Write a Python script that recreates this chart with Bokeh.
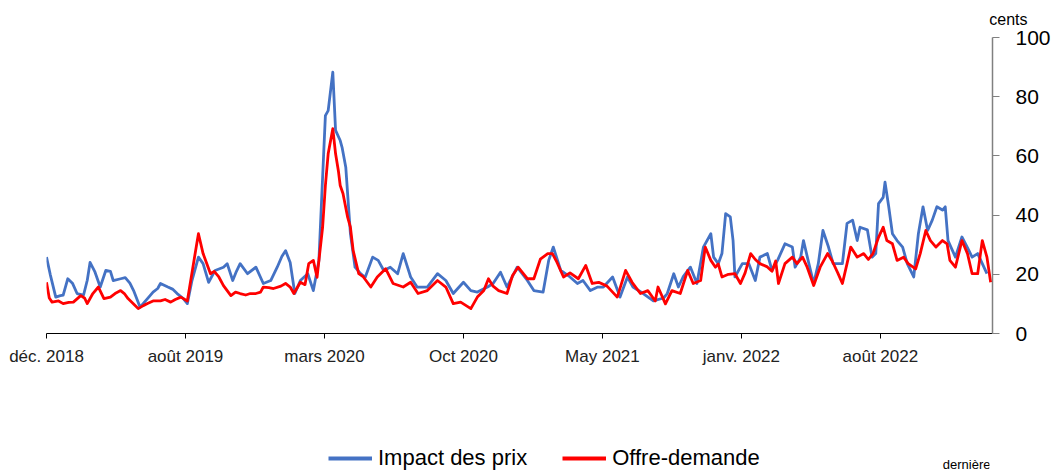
from bokeh.plotting import figure
from bokeh.models import Range1d, FixedTicker, Legend, LegendItem, Title, Label
from bokeh.layouts import column
from bokeh.embed import file_html
from bokeh.resources import INLINE

# tick positions (observation index) and their labels
tick_days = [0, 150, 300, 450, 600, 750, 900]
tick_labels = ["déc. 2018", "août 2019", "mars 2020", "Oct 2020", "May 2021", "janv. 2022", "août 2022"]
y_ticks = [0, 20, 40, 60, 80, 100]

# Impact des prix (observation index, cents)
blue_day = [0, 4, 10, 15, 18, 23, 28, 33, 40, 44, 47, 52, 58, 64, 69, 72, 80, 85, 90, 94,
            101, 109, 115, 120, 123, 131, 136, 141, 147, 152, 157, 164, 169, 175, 182, 191, 195, 201, 205, 209,
            217, 226, 234, 242, 249, 254, 258, 263, 268, 274, 282, 288, 294, 298, 301, 304, 309, 312, 317, 319,
            323, 326, 328, 333, 339, 344, 352, 358, 364, 371, 379, 385, 393, 400, 411, 422, 431, 439, 450, 458,
            465, 476, 482, 490, 497, 508, 519, 526, 536, 542, 547, 555, 565, 573, 579, 587, 595, 601, 611, 619,
            627, 633, 644, 655, 666, 670, 677, 682, 687, 695, 702, 709, 717, 720, 725, 729, 733, 738, 741, 743,
            751, 758, 765, 770, 778, 783, 789, 797, 805, 808, 814, 817, 822, 828, 833, 838, 844, 849, 859, 864,
            870, 875, 878, 886, 891, 895, 898, 903, 905, 909, 913, 918, 924, 929, 936, 941, 946, 951, 956, 961,
            967, 970, 973, 981, 988, 994, 999, 1005, 1010, 1015]
blue_val = [25.8, 20.0, 12.3, 12.8, 13.0, 18.5, 17.0, 13.5, 13.0, 18.0, 24.0, 21.0, 15.7, 21.3, 21.0, 17.9, 18.5, 18.9, 17.0, 14.5,
            8.9, 11.8, 14.0, 15.2, 16.9, 15.7, 15.0, 13.5, 12.0, 10.1, 17.9, 25.8, 23.6, 17.3, 21.3, 22.4, 23.6, 17.9, 21.0, 23.6,
            20.2, 22.4, 16.9, 17.9, 22.4, 26.0, 28.0, 24.0, 13.5, 17.9, 20.2, 14.5, 24.7, 52.8, 73.6, 75.3, 88.3, 68.6, 65.2, 62.9,
            56.2, 42.7, 33.8, 22.4, 20.2, 19.0, 25.8, 24.7, 21.3, 22.4, 20.2, 27.0, 19.1, 15.7, 15.7, 20.2, 17.9, 13.5, 17.3, 14.5,
            14.0, 15.7, 16.9, 20.7, 15.7, 22.4, 17.9, 14.5, 14.0, 24.7, 29.2, 21.3, 19.1, 16.9, 17.9, 14.5, 15.7, 15.7, 19.1, 12.3,
            19.1, 15.7, 13.5, 11.0, 12.0, 13.5, 20.2, 15.7, 19.1, 22.4, 16.9, 29.2, 33.7, 25.8, 23.6, 27.0, 40.5, 39.4, 31.4, 19.1,
            23.6, 23.6, 17.9, 25.8, 27.0, 21.3, 24.7, 30.3, 29.2, 22.4, 25.8, 31.4, 24.7, 16.9, 23.6, 34.8, 29.2, 23.6, 23.6, 37.2,
            38.3, 31.4, 35.9, 35.0, 25.8, 27.0, 43.9, 46.0, 51.1, 42.8, 33.7, 31.4, 29.2, 23.6, 19.1, 33.7, 42.8, 34.8, 38.3, 42.8,
            41.7, 42.8, 31.4, 25.8, 32.6, 29.0, 25.8, 27.0, 23.6, 20.2]

# Offre-demande (observation index, cents)
red_day = [0, 3, 6, 13, 18, 24, 29, 37, 41, 44, 50, 56, 62, 69, 74, 80, 84, 88, 94, 99,
           105, 109, 115, 123, 128, 134, 139, 145, 152, 158, 162, 164, 169, 177, 181, 186, 191, 199, 204, 209,
           215, 220, 226, 231, 234, 240, 245, 253, 258, 263, 267, 274, 279, 283, 288, 292, 298, 301, 304, 309,
           312, 315, 317, 320, 325, 328, 331, 337, 342, 350, 357, 366, 374, 385, 393, 401, 411, 422, 431, 439,
           447, 458, 465, 472, 477, 482, 488, 497, 503, 509, 519, 526, 533, 541, 546, 551, 558, 565, 574, 582,
           589, 596, 605, 616, 625, 632, 641, 649, 657, 660, 668, 675, 684, 692, 698, 706, 711, 717, 722, 725,
           729, 736, 743, 749, 754, 760, 765, 770, 778, 783, 787, 790, 797, 805, 810, 816, 821, 828, 835, 843,
           848, 854, 859, 864, 868, 875, 882, 887, 892, 898, 903, 907, 913, 918, 925, 930, 938, 943, 949, 954,
           960, 967, 972, 975, 981, 988, 994, 999, 1005, 1010, 1015, 1019]
red_val = [17.3, 12.0, 10.6, 11.0, 10.1, 10.5, 10.6, 12.8, 12.0, 10.1, 13.5, 15.7, 11.8, 12.3, 13.5, 14.5, 13.5, 11.8, 10.0, 8.4,
           9.5, 10.1, 11.0, 11.0, 11.5, 10.6, 11.5, 12.3, 11.0, 22.4, 30.0, 33.7, 27.0, 20.2, 21.0, 19.1, 16.2, 12.8, 14.0, 13.5,
           13.0, 13.5, 13.5, 14.0, 15.7, 15.5, 15.2, 16.0, 16.9, 15.7, 13.5, 17.3, 16.5, 23.6, 24.7, 19.0, 35.9, 50.0, 60.7, 69.2,
           60.7, 55.0, 50.0, 47.3, 39.3, 35.9, 28.0, 20.2, 19.1, 15.7, 19.1, 21.9, 16.9, 15.7, 17.3, 13.5, 14.5, 17.9, 15.7, 10.1,
           10.6, 8.4, 12.3, 14.5, 18.5, 16.0, 14.5, 13.5, 19.6, 22.4, 18.5, 18.5, 25.1, 27.0, 27.0, 24.0, 19.1, 20.5, 18.5, 23.0,
           16.9, 17.3, 16.0, 12.3, 21.3, 17.3, 13.5, 14.5, 11.0, 15.7, 10.0, 14.5, 13.5, 21.3, 16.9, 17.9, 29.2, 24.7, 22.4, 23.5,
           19.1, 20.0, 20.2, 16.9, 20.5, 27.0, 25.0, 23.6, 22.5, 21.0, 24.5, 16.9, 23.6, 25.8, 23.6, 25.8, 22.4, 16.2, 22.4, 27.0,
           24.5, 20.5, 16.9, 23.6, 29.2, 25.8, 27.0, 25.0, 27.0, 32.5, 35.9, 31.4, 30.3, 24.7, 25.8, 23.6, 21.8, 27.0, 34.8, 31.4,
           29.2, 31.4, 30.3, 24.7, 22.4, 31.4, 27.0, 20.2, 20.2, 31.4, 25.8, 17.3]

series_names = ["Impact des prix", "Offre-demande"]
series_colors = ["#4472C4", "#FF0000"]

p = figure(frame_width=946, frame_height=296, output_backend="svg", toolbar_location=None,
           x_range=Range1d(0, 1021), y_range=Range1d(0, 100),
           y_axis_location="right",
           min_border_left=46, min_border_right=58, min_border_top=37, min_border_bottom=0)

p.grid.visible = False
p.outline_line_color = None
p.background_fill_color = "white"
p.border_fill_color = "white"

p.line(blue_day, blue_val, line_color=series_colors[0], line_width=2.8, line_join="round")
p.line(red_day, red_val, line_color=series_colors[1], line_width=2.8, line_join="round")

xa = p.xaxis[0]
xa.ticker = FixedTicker(ticks=tick_days)
xa.major_label_overrides = {d: l for d, l in zip(tick_days, tick_labels)}
xa.axis_line_color = "#000000"
xa.major_tick_line_color = "#000000"
xa.major_tick_out = 5
xa.major_tick_in = 0
xa.minor_tick_line_color = None
xa.major_label_standoff = 8
xa.major_label_text_font = "Liberation Sans"
xa.major_label_text_font_size = "17px"
xa.major_label_text_color = "#222222"

ya = p.yaxis[0]
ya.ticker = FixedTicker(ticks=y_ticks)
ya.axis_line_color = "#808080"
ya.axis_line_width = 1.5
ya.major_tick_line_color = "#808080"
ya.major_tick_out = 7
ya.major_tick_in = 0
ya.minor_tick_line_color = None
ya.major_label_standoff = 16
ya.major_label_text_font = "Liberation Sans"
ya.major_label_text_font_size = "21px"
ya.major_label_text_color = "#000000"

# unit label above the right axis
p.add_layout(Title(text="cents", align="right", offset=-35, standoff=16, vertical_align="top",
                   text_font="Liberation Sans", text_font_size="16px", text_font_style="normal",
                   text_color="#000000"), "above")

# legend strip below the chart (its ranges keep the key lines themselves out of view)
q = figure(width=1050, height=108, output_backend="svg", toolbar_location=None,
           x_range=Range1d(0, 1), y_range=Range1d(0, 1),
           x_axis_location=None, y_axis_location=None, min_border=0)
q.grid.visible = False
q.outline_line_color = None
q.background_fill_color = "white"
q.border_fill_color = "white"
kb = q.line(blue_day, blue_val, line_color=series_colors[0], line_width=4)
kr = q.line(red_day, red_val, line_color=series_colors[1], line_width=4)

legend = Legend(items=[LegendItem(label=series_names[0], renderers=[kb]),
                       LegendItem(label=series_names[1], renderers=[kr])],
                orientation="horizontal", location=(282, 5), margin=0,
                padding=0, spacing=35, glyph_width=44, glyph_height=20,
                label_standoff=6, border_line_color=None, background_fill_alpha=0,
                label_text_font="Liberation Sans", label_text_font_size="22px",
                label_text_color="#000000", label_height=20)
q.add_layout(legend)

q.add_layout(Label(x=944, y=12, x_units="screen", y_units="screen", text="dernière",
                   text_align="right", text_baseline="middle", text_font="Liberation Sans",
                   text_font_size="13px", text_color="#000000"))

open("out.html", "w").write(file_html(column(p, q, spacing=0), INLINE))
